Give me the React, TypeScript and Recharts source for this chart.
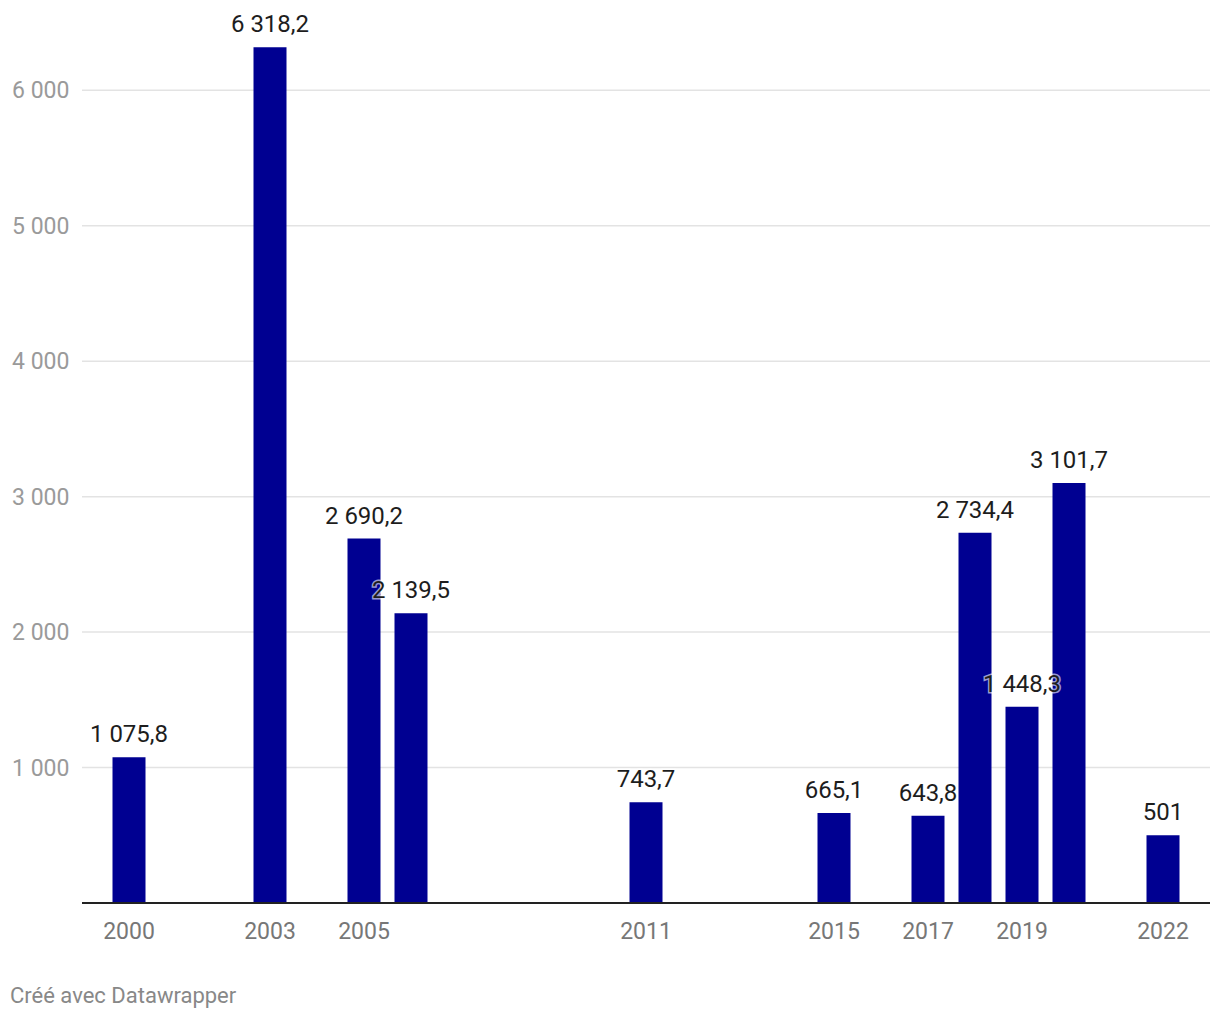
import { BarChart, Bar, XAxis, YAxis, CartesianGrid, LabelList } from 'recharts';

const years = [
  '2000', '2001', '2002', '2003', '2004', '2005', '2006', '2007', '2008', '2009', '2010', '2011',
  '2012', '2013', '2014', '2015', '2016', '2017', '2018', '2019', '2020', '2021', '2022',
];
const values: (number | null)[] = [
  1075.8, null, null, 6318.2, null, 2690.2, 2139.5, null, null, null, null, 743.7,
  null, null, null, 665.1, null, 643.8, 2734.4, 1448.3, 3101.7, null, 501,
];
const shownYears = ['2000', '2003', '2005', '2011', '2015', '2017', '2019', '2022'];
const yTicks = [1000, 2000, 3000, 4000, 5000, 6000];

const data = years.map((year, i) => ({ year, value: values[i] }));

// French style: space for thousands, comma for decimals
const fr = (v: number) => {
  const [int, dec] = String(v).split('.');
  const withSpaces = int.replace(/\B(?=(\d{3})+(?!\d))/g, ' ');
  return dec ? `${withSpaces},${dec}` : withSpaces;
};

const font = 'Roboto, sans-serif';

const YTick = (props: any) => {
  const { y, payload } = props;
  return (
    <text x={12} y={y} dy="0.35em" textAnchor="start" fill="#9a9a9a" fontSize={23} fontFamily={font}>
      {fr(payload.value)}
    </text>
  );
};

const XTick = (props: any) => {
  const { x, y, payload } = props;
  if (!shownYears.includes(payload.value)) return null;
  return (
    <text x={x} y={y + 20} dy="0.35em" textAnchor="middle" fill="#777" fontSize={23} fontFamily={font}>
      {payload.value}
    </text>
  );
};

const BarLabel = (props: any) => {
  const { x, y, width, value } = props;
  if (value == null) return null;
  return (
    <text
      x={x + width / 2}
      y={y - 15}
      textAnchor="middle"
      fill="#1d1d1d"
      fontSize={24}
      fontFamily={font}
      stroke="#fff"
      strokeWidth={3}
      strokeOpacity={0.6}
      paintOrder="stroke"
    >
      {fr(value)}
    </text>
  );
};

export default function App() {
  return (
    <div style={{ position: 'absolute', left: 0, top: 0, width: 1220, height: 1020, background: '#fff', fontFamily: font }}>
      <BarChart
        width={1220}
        height={960}
        data={data}
        margin={{ top: 22.6, right: 10, left: 0, bottom: 17 }}
        barSize={33}
      >
        <CartesianGrid vertical={false} horizontalValues={yTicks} stroke="#e3e3e3" strokeWidth={1.5} />
        <XAxis
          dataKey="year"
          interval={0}
          tickLine={false}
          axisLine={{ stroke: '#222', strokeWidth: 2 }}
          tick={<XTick />}
          height={40}
          padding={{ left: 23.5, right: 23.5 }}
        />
        <YAxis
          domain={[0, 6500]}
          ticks={yTicks}
          width={82}
          axisLine={false}
          tickLine={false}
          tick={<YTick />}
        />
        <Bar dataKey="value" fill="#000091" isAnimationActive={false}>
          <LabelList dataKey="value" content={<BarLabel />} />
        </Bar>
      </BarChart>
      <div style={{ position: 'absolute', left: 10, top: 983, fontSize: 22, color: '#888', fontFamily: font }}>
        Créé avec Datawrapper
      </div>
    </div>
  );
}
